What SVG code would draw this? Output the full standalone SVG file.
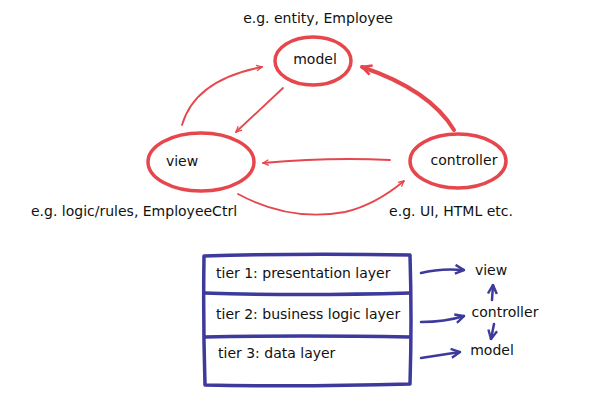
<svg xmlns="http://www.w3.org/2000/svg" width="600" height="407" viewBox="0 0 600 407">
<defs>
<style>
text{font-family:"DejaVu Sans","Liberation Sans",Arial,sans-serif;font-size:14px;fill:#111}
.rn{fill:none;stroke:#e5474d;stroke-width:3.5}
.ra{fill:none;stroke:#e5474d;stroke-width:1.8;stroke-linecap:round}
.rt{fill:none;stroke:#e5474d;stroke-width:4;stroke-linecap:round}
.bl{fill:none;stroke:#3d3a9c;stroke-width:2.5;stroke-linecap:round;stroke-linejoin:round}
.bb{fill:none;stroke:#3d3a9c;stroke-width:3.5;stroke-linejoin:round}
</style>
<marker id="rh" viewBox="0 0 10 10" refX="9" refY="5" markerWidth="7" markerHeight="7" orient="auto" markerUnits="userSpaceOnUse"><path d="M1,1 L9,5 L1,9" fill="none" stroke="#e5474d" stroke-width="1.8"/></marker>
<marker id="rh2" viewBox="0 0 10 10" refX="9" refY="5" markerWidth="12" markerHeight="12" orient="auto" markerUnits="userSpaceOnUse"><path d="M1,1 L9,5 L1,9" fill="none" stroke="#e5474d" stroke-width="2.2"/></marker>
<marker id="bh" viewBox="0 0 10 10" refX="9" refY="5" markerWidth="11" markerHeight="11" orient="auto" markerUnits="userSpaceOnUse"><path d="M1,1 L9,5 L1,9" fill="none" stroke="#3d3a9c" stroke-width="2.2"/></marker>
</defs>
<rect width="600" height="407" fill="#fff"/>
<g id="model">
<ellipse class="rn" cx="313" cy="61" rx="38" ry="24"/>
<text x="315" y="64" text-anchor="middle">model</text>
<text x="318" y="23" text-anchor="middle">e.g. entity, Employee</text>
</g>
<g id="view">
<ellipse class="rn" cx="201" cy="162" rx="53" ry="29"/>
<text x="182" y="166" text-anchor="middle">view</text>
<text x="134" y="216" text-anchor="middle">e.g. logic/rules, EmployeeCtrl</text>
</g>
<g id="controller">
<ellipse class="rn" cx="458" cy="161" rx="48" ry="27"/>
<text x="464" y="165" text-anchor="middle">controller</text>
<text x="451" y="216" text-anchor="middle">e.g. UI, HTML etc.</text>
</g>
<g id="connectors">
<path class="ra" d="M182,125 Q195,80 262,67" marker-end="url(#rh)"/>
<path class="ra" d="M283,88 L236,132" marker-end="url(#rh)"/>
<path class="rt" d="M454,130 Q430,90 362,67" marker-end="url(#rh2)"/>
<path class="ra" d="M390,160 Q330,157 263,163" stroke-width="2.5" marker-end="url(#rh)"/>
<path class="ra" d="M238,194 Q290,222 345,212 Q375,205 404,181" stroke-width="2.5" marker-end="url(#rh)"/>
<path class="bl" d="M421,273 Q440,268 464,270" marker-end="url(#bh)"/>
<path class="bl" d="M421,322 Q445,322 464,316" marker-end="url(#bh)"/>
<path class="bl" d="M421,358 Q440,355 460,352" marker-end="url(#bh)"/>
<path class="bl" d="M492,300 L493,285" marker-end="url(#bh)"/>
<path class="bl" d="M494,324 L491,339" marker-end="url(#bh)"/>
</g>
<g id="tiers">
<path class="bb" d="M204,256 Q300,253 410,255 Q412,320 410,384 Q300,387 205,385 Q203,320 204,256 Z"/>
<path class="bb" d="M204,293 Q300,296 410,293"/>
<path class="bb" d="M204,337 Q300,335 410,337"/>
<text x="216" y="278">tier 1: presentation layer</text>
<text x="216" y="319">tier 2: business logic layer</text>
<text x="218" y="358">tier 3: data layer</text>
</g>
<g id="labels">
<text x="491" y="275" text-anchor="middle">view</text>
<text x="505" y="317" text-anchor="middle">controller</text>
<text x="492" y="355" text-anchor="middle">model</text>
</g>
</svg>
